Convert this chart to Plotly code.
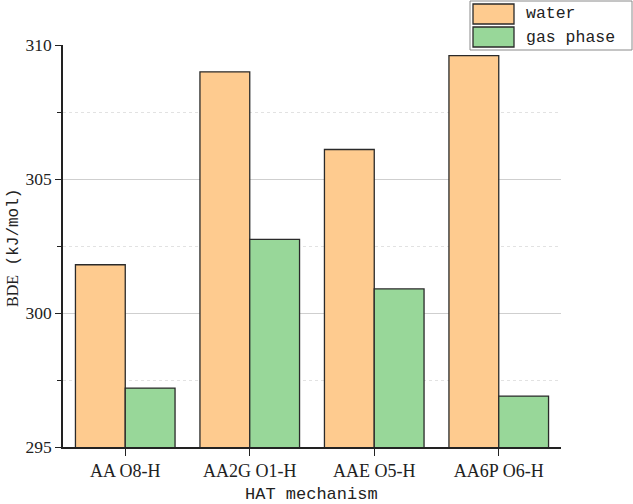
import plotly.graph_objects as go

categories = ["AA O8-H", "AA2G O1-H", "AAE O5-H", "AA6P O6-H"]
water = [301.8, 309.0, 306.1, 309.6]
gas_phase = [297.2, 302.75, 300.9, 296.9]
series_names = ["water", "gas phase"]
y_ticks = [295, 300, 305, 310]

c_water = "#FECB8F"
c_gas = "#98D799"
edge = "#2a2a2a"

fig = go.Figure()
fig.add_trace(go.Bar(x=categories, y=water, name=series_names[0], marker=dict(color=c_water, line=dict(color=edge, width=1.3)), showlegend=False))
fig.add_trace(go.Bar(x=categories, y=gas_phase, name=series_names[1], marker=dict(color=c_gas, line=dict(color=edge, width=1.3)), showlegend=False))

W, H = 633, 504
ml, mr, mt, mb = 63, 72, 45, 57
pw, ph = W - ml - mr, H - mt - mb

def px(xp):
    return (xp - ml) / pw

def py(yp):
    return 1 - (yp - mt) / ph

fig.update_layout(
    width=W, height=H,
    margin=dict(l=ml, r=mr, t=mt, b=mb, autoexpand=False),
    paper_bgcolor="white", plot_bgcolor="white",
    barmode="group", bargap=0.2, bargroupgap=0,
    xaxis=dict(
        range=[-0.5, 3.5], showline=True, linecolor="#222", linewidth=1.5,
        ticks="outside", ticklen=7, tickwidth=1.3, tickcolor="#222",
        tickfont=dict(family="Liberation Serif", size=18, color="#222"),
        showgrid=False, automargin=False,
        minor=dict(ticks="outside", ticklen=4, tickwidth=1.3, tickcolor="#222", dtick=1, tick0=0.5),
    ),
    yaxis=dict(
        range=[295, 310], tickvals=y_ticks, showline=True, linecolor="#222", linewidth=1.5,
        ticks="outside", ticklen=6, tickwidth=1.3, tickcolor="#222",
        tickfont=dict(family="Liberation Serif", size=17.5, color="#222"),
        showgrid=True, gridcolor="#cfcfcf", gridwidth=1,
        zeroline=False, automargin=False,
        minor=dict(ticks="outside", ticklen=4, tickwidth=1.3, tickcolor="#222", dtick=2.5, tick0=295,
                   showgrid=True, gridcolor="#e2e2e2", griddash="dot", gridwidth=1),
    ),
)

# axis titles
fig.add_annotation(xref="paper", yref="paper", x=px(311), y=py(495), text="HAT mechanism", showarrow=False,
                   xanchor="center", yanchor="middle", font=dict(family="Liberation Mono", size=17, color="#222"))
fig.add_annotation(xref="paper", yref="paper", x=px(13), y=py(248),
                   text="<span style='font-family:Liberation Serif'>BDE</span> (kJ/mol)", showarrow=False,
                   textangle=-90, xanchor="center", yanchor="middle",
                   font=dict(family="Liberation Mono", size=16, color="#222"))

shapes = [
    # hide the top gridline (reference has none at 310)
    dict(type="line", xref="paper", yref="y", x0=0.004, x1=1, y0=310, y1=310,
         line=dict(color="white", width=3), layer="between"),
    # legend box drawn manually
    dict(type="rect", xref="paper", yref="paper", x0=px(470), x1=px(632), y0=py(50), y1=py(1),
         line=dict(color="#8a8a8a", width=1), fillcolor="white", layer="above"),
    dict(type="rect", xref="paper", yref="paper", x0=px(473), x1=px(514), y0=py(24), y1=py(4),
         line=dict(color=edge, width=1.3), fillcolor=c_water, layer="above"),
    dict(type="rect", xref="paper", yref="paper", x0=px(473), x1=px(514), y0=py(47), y1=py(27),
         line=dict(color=edge, width=1.3), fillcolor=c_gas, layer="above"),
]
fig.update_layout(shapes=shapes)
for name, yc in zip(series_names, [14, 37]):
    fig.add_annotation(xref="paper", yref="paper", x=px(524), y=py(yc), text=name, showarrow=False,
                       xanchor="left", yanchor="middle", font=dict(family="Liberation Mono", size=16.5, color="#222"))

fig.write_html("out.html", config={"displayModeBar": False},
               post_script="document.body.style.margin='0';document.body.style.padding='0';")
